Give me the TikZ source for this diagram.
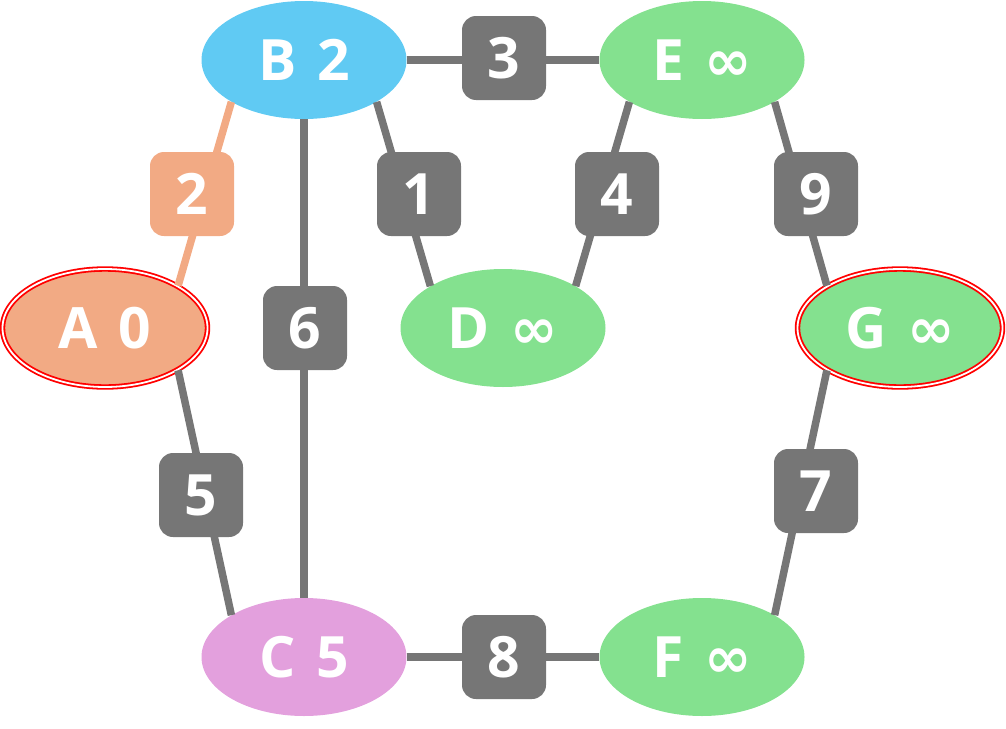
\documentclass[tikz,border=0pt]{standalone}
\usepackage{fontspec}
\setmainfont{Open Sans}
\newfontfamily\symfont{DejaVu Sans}
\usetikzlibrary{shapes.geometric}
\definecolor{nodeblue}{RGB}{96,202,243}
\definecolor{nodegreen}{RGB}{132,225,143}
\definecolor{nodesalmon}{RGB}{242,170,132}
\definecolor{nodepink}{RGB}{227,160,221}
\definecolor{edgegray}{RGB}{118,118,118}
\newcommand{\vertfont}{\fontsize{57}{60}\selectfont\bfseries\spaceskip=0.36em\relax}
\newcommand{\infsym}{{\symfont\bfseries ∞}}

\begin{document}
\begin{tikzpicture}[x=1pt,y=-1pt,
    vert/.style={
        ellipse,
        minimum width=205pt,
        minimum height=118pt,
        inner sep=0pt,
        text=white,
        font=\vertfont
    },
    goal/.style={
        vert,
        draw=red,
        double=white,
        line width=1.8pt,
        double distance=1.8pt
    },
    edge/.style={
        edgegray,
        line width=7.5pt
    },
    wt/.style={
        fill=edgegray,
        rounded corners=14pt,
        minimum width=84pt,
        minimum height=84pt,
        inner sep=0pt,
        text=white,
        font=\fontsize{57}{60}\selectfont\bfseries
    }
]

\node[goal, fill=nodesalmon] (A) at (105,328) {A 0};
\node[vert, fill=nodeblue] (B) at (304,60) {B 2};
\node[vert, fill=nodepink] (C) at (304,657) {C 5};
\node[vert, fill=nodegreen] (D) at (503,328) {D \infsym};
\node[vert, fill=nodegreen] (E) at (702,60) {E \infsym};
\node[vert, fill=nodegreen] (F) at (702,657) {F \infsym};
\node[goal, fill=nodegreen] (G) at (900,328) {G \infsym};

\draw[edge, nodesalmon] (A.north east) -- (B.south west);
\draw[edge] (A.south east) -- (C.north west);
\draw[edge] (B) -- (E);
\draw[edge] (B) -- (C);
\draw[edge] (B.south east) -- (D.north west);
\draw[edge] (E.south west) -- (D.north east);
\draw[edge] (E.south east) -- (G.north west);
\draw[edge] (C) -- (F);
\draw[edge] (G.south west) -- (F.north east);

\node[wt, fill=nodesalmon] (wAB) at (192,194) {2};
\foreach \name/\x/\y/\w in {
    wAC/201/495/5,
    wBE/504/58/3,
    wBC/305/328/6,
    wBD/419/194/1,
    wED/617/194/4,
    wEG/816/194/9,
    wCF/504/657/8,
    wGF/816/491/7
}{
    \node[wt] (\name) at (\x,\y) {\w};
}

\pgfresetboundingbox
\path[use as bounding box] (0,0) rectangle (1006,728);
\end{tikzpicture}
\end{document}
